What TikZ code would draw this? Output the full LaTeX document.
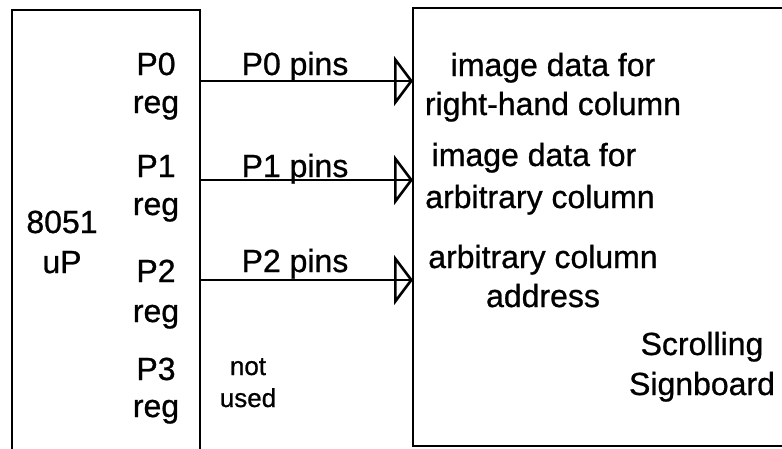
\documentclass[tikz,border=0pt]{standalone}
\usepackage{fontspec}
\setmainfont{Liberation Sans}[RawFeature={embolden=0.8}]
\usetikzlibrary{arrows.meta, positioning}

\begin{document}
\begin{tikzpicture}[x=1pt, y=-1pt, line width=2.6pt,
    txt/.style={font=\fontsize{32}{36}\selectfont, inner sep=0pt, anchor=base},
    small/.style={font=\fontsize{26}{30}\selectfont, inner sep=0pt, anchor=base},
    bus/.style={line width=2.6pt, postaction={draw, -{Triangle[open, length=19pt, width=50pt, line width=2.6pt]}}}]
    \useasboundingbox (0,0) rectangle (782,448);
    \clip (0,0) rectangle (782,448);

    % Le microcontroleur (ouvert en bas)
    \draw (12,460) -- (12,10) -- (200,10) -- (200,460);
    % Le panneau (ouvert a droite)
    \draw (800,8) -- (413,8) -- (413,446) -- (800,446);

    % Registres
    \node[txt] (p0) at (156,75) {P0};
    \node[txt] (r0) at (156,113) {reg};
    \node[txt] (p1) at (156,177) {P1};
    \node[txt] (r1) at (156,215) {reg};
    \node[txt] (p2) at (156,282) {P2};
    \node[txt] (r2) at (156,322) {reg};
    \node[txt] (p3) at (156,380) {P3};
    \node[txt] (r3) at (156,417) {reg};

    \node[txt] (cpu) at (62,233) {8051};
    \node[txt] (up) at (62,273) {uP};

    % Les bus
    \coordinate (out0) at (200,81);
    \coordinate (in0) at (413,81);
    \coordinate (out1) at (200,180);
    \coordinate (in1) at (413,180);
    \coordinate (out2) at (200,280);
    \coordinate (in2) at (413,280);
    \draw[bus] (out0) -- (in0);
    \draw[bus] (out1) -- (in1);
    \draw[bus] (out2) -- (in2);

    \node[txt] (pins0) at (295,75) {P0 pins};
    \node[txt] (pins1) at (295,177) {P1 pins};
    \node[txt] (pins2) at (295,272) {P2 pins};
    \node[small] (nc1) at (248,375) {not};
    \node[small] (nc2) at (248,407) {used};

    % Cote panneau
    \node[txt] (d0a) at (553,76) {image data for};
    \node[txt] (d0b) at (553,115) {right-hand column};
    \node[txt] (d1a) at (534,166) {image data for};
    \node[txt] (d1b) at (540,208) {arbitrary column};
    \node[txt] (d2a) at (543,268) {arbitrary column};
    \node[txt] (d2b) at (543,307) {address};
    \node[txt] (sb1) at (702,355) {Scrolling};
    \node[txt] (sb2) at (702,395) {Signboard};
\end{tikzpicture}
\end{document}
